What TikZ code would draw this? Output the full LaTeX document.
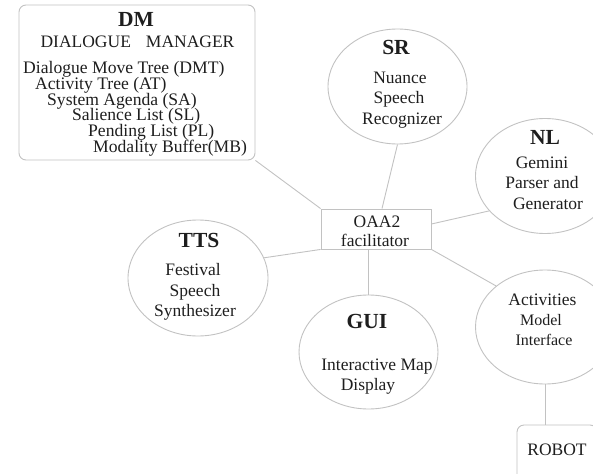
\documentclass[tikz,border=0pt]{standalone}
\usepackage{fontspec}
\setmainfont{Liberation Serif}
\usetikzlibrary{shapes.geometric}
\definecolor{ink}{HTML}{1E1E1E}
\definecolor{linegray}{HTML}{C2C2C2}
% let tightly set lines keep their baseline distance
\setlength{\lineskiplimit}{-30pt}
\tikzset{
  link/.style={draw=linegray, line width=0.9pt},
  bubble/.style={ellipse, draw=linegray, line width=0.9pt, inner sep=0pt,
    minimum width=139pt, minimum height=115pt},
  panel/.style={rectangle, draw=linegray, line width=0.9pt, rounded corners=7pt, inner sep=0pt},
  hub/.style={rectangle, draw=linegray, line width=0.9pt, inner sep=0pt,
    minimum width=110pt, minimum height=40pt},
  head/.style={anchor=base, inner sep=0pt, text=ink, font=\fontsize{21.5}{24}\selectfont\bfseries},
  body/.style={anchor=base, inner sep=0pt, text=ink, font=\fontsize{17.5}{20}\selectfont},
  small/.style={anchor=base, inner sep=0pt, text=ink, font=\fontsize{16}{19}\selectfont},
  itemlist/.style={anchor=base west, inner sep=0pt, text=ink, align=left,
    font=\fontsize{17.6}{15.8}\selectfont},
}
\begin{document}
\begin{tikzpicture}[x=1pt, y=-1pt]
  \useasboundingbox (0,0) rectangle (593,473);
  \clip (0,0) rectangle (593,473);

  % facilitator hub
  \node[hub] (fac) at (376,229) {};
  \node[body] (facA) at (377,227) {OAA2};
  \node[body] (facB) at (375,246) {facilitator};

  % dialogue manager panel; the list node is placed by its last baseline
  \node[panel, minimum width=236pt, minimum height=155pt] (dm) at (137,82.5) {};
  \node[head] (dmT) at (136,27) {DM};
  \node[body] (dmS) at (137.5,48) {DIALOGUE\hspace{15pt}MANAGER};
  \node[itemlist] (dmList) at (23,152.5) {%
    Dialogue Move Tree (DMT)\\
    \hspace*{12pt}Activity Tree (AT)\\
    \hspace*{24pt}System Agenda (SA)\\
    \hspace*{49pt}Salience List (SL)\\
    \hspace*{65pt}Pending List (PL)\\
    \hspace*{70pt}Modality Buffer(MB)};

  % speech recognizer
  \node[bubble] (sr) at (397.5,86.5) {};
  \node[head] (srT) at (396,55) {SR};
  \node[body] (sr1) at (400,84) {Nuance};
  \node[body] (sr2) at (399,104) {Speech};
  \node[body] (sr3) at (402,124.5) {Recognizer};

  % parser and generator
  \node[bubble] (nl) at (545,176) {};
  \node[head] (nlT) at (545,145) {NL};
  \node[body] (nl1) at (542,168) {Gemini};
  \node[body] (nl2) at (542,188) {Parser and};
  \node[body] (nl3) at (548,209) {Generator};

  % speech synthesizer
  \node[bubble, minimum width=140pt, minimum height=116pt] (tts) at (198,278) {};
  \node[head] (ttsT) at (199,247) {TTS};
  \node[body] (tts1) at (193,275) {Festival};
  \node[body] (tts2) at (195,296) {Speech};
  \node[body] (tts3) at (195,316) {Synthesizer};

  % map display
  \node[bubble, minimum height=114pt] (gui) at (368.5,352) {};
  \node[head] (guiT) at (367,328) {GUI};
  \node[body] (gui1) at (377,370) {Interactive Map};
  \node[body] (gui2) at (368,390) {Display};

  % activities model interface
  \node[bubble, minimum height=114pt] (act) at (545,327) {};
  \node[body] (act1) at (542.5,305) {Activities};
  \node[small] (act2) at (541,325) {Model};
  \node[small] (act3) at (544,345) {Interface};

  % robot
  \node[panel, minimum width=80pt, minimum height=60pt] (robot) at (557,455) {};
  \node[body] (robotT) at (557,455) {ROBOT};

  % connections
  \draw[link] (dm.south east) -- (fac.north west);
  \draw[link] ([xshift=6pt]fac.north) -- (sr.south);
  \draw[link] ([yshift=5pt]fac.east) -- (nl.212);
  \draw[link] (fac.south west) -- (tts.17);
  \draw[link] (gui.north |- fac.south) -- (gui.north);
  \draw[link] (fac.south east) -- (act.140);
  \draw[link] (act.south) -- (act.south |- robot.north);
\end{tikzpicture}
\end{document}
